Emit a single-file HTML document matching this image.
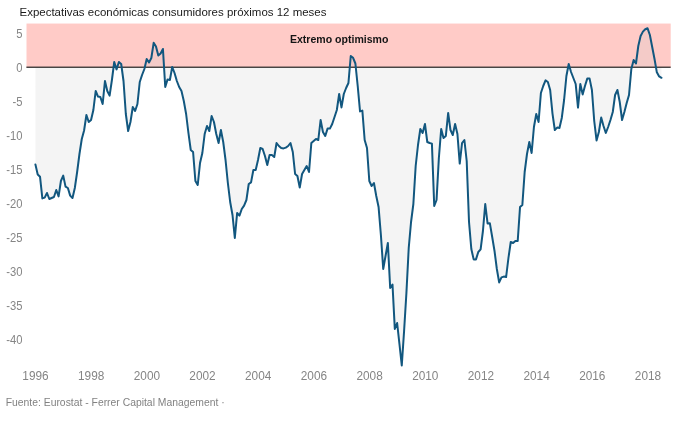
<!DOCTYPE html>
<html><head><meta charset="utf-8"><title>Expectativas económicas consumidores</title>
<style>
html,body{margin:0;padding:0;background:#fff;}
body{width:680px;height:421px;overflow:hidden;font-family:"Liberation Sans",sans-serif;}
svg{display:block;will-change:transform;}
text{font-family:"Liberation Sans",sans-serif;}
.tk{font-size:12.2px;fill:#858585;}
.ttl{font-size:11.5px;fill:#1a1a1a;}
.ann{font-size:11.4px;font-weight:bold;fill:#151515;}
.ft{font-size:11px;fill:#828282;}
</style></head><body>
<svg width="680" height="421" viewBox="0 0 680 421">
<rect x="0" y="0" width="680" height="421" fill="#ffffff"/>
<text x="19.5" y="16" class="ttl" textLength="307" lengthAdjust="spacingAndGlyphs">Expectativas económicas consumidores próximos 12 meses</text>
<rect x="26.5" y="23.55" width="644.2" height="43.85" fill="#ffcbc7"/>
<path d="M35.40,67.4 L35.40,164.40 L37.72,174.50 L40.04,176.80 L42.36,198.40 L44.68,197.60 L46.99,193.00 L49.31,199.00 L51.63,198.00 L53.95,197.00 L56.27,190.00 L58.59,196.40 L60.91,181.00 L63.23,175.60 L65.54,186.60 L67.86,188.00 L70.18,195.60 L72.50,198.00 L74.82,188.00 L77.14,172.00 L79.46,154.00 L81.78,139.00 L84.09,130.50 L86.41,115.00 L88.73,122.00 L91.05,120.00 L93.37,110.00 L95.69,91.00 L98.01,96.60 L100.33,97.00 L102.65,104.00 L104.96,81.00 L107.28,91.00 L109.60,95.60 L111.92,80.00 L114.24,62.00 L116.56,69.40 L118.88,62.00 L121.20,64.00 L123.51,81.00 L125.83,114.00 L128.15,131.00 L130.47,122.00 L132.79,107.00 L135.11,111.00 L137.43,104.00 L139.75,82.00 L142.06,75.00 L144.38,69.00 L146.70,59.00 L149.02,62.50 L151.34,58.00 L153.66,42.80 L155.98,46.50 L158.30,55.50 L160.62,53.50 L162.93,49.00 L165.25,87.00 L167.57,79.40 L169.89,80.00 L172.21,67.00 L174.53,73.00 L176.85,81.00 L179.17,87.00 L181.48,91.00 L183.80,101.00 L186.12,114.00 L188.44,133.00 L190.76,150.00 L193.08,152.00 L195.40,181.00 L197.72,185.00 L200.03,163.00 L202.35,153.00 L204.67,134.00 L206.99,126.00 L209.31,131.00 L211.63,116.00 L213.95,122.00 L216.27,134.00 L218.59,143.00 L220.90,130.00 L223.22,142.00 L225.54,160.00 L227.86,183.00 L230.18,202.00 L232.50,215.00 L234.82,238.00 L237.14,213.00 L239.45,215.60 L241.77,209.00 L244.09,205.60 L246.41,200.00 L248.73,184.00 L251.05,182.40 L253.37,170.00 L255.69,170.00 L258.00,160.00 L260.32,148.00 L262.64,149.00 L264.96,156.00 L267.28,165.00 L269.60,155.00 L271.92,155.00 L274.24,157.00 L276.56,143.00 L278.87,146.00 L281.19,148.00 L283.51,148.40 L285.83,147.60 L288.15,146.00 L290.47,143.00 L292.79,152.00 L295.11,174.00 L297.42,176.00 L299.74,187.60 L302.06,174.00 L304.38,170.00 L306.70,166.00 L309.02,172.00 L311.34,143.00 L313.66,141.00 L315.97,139.00 L318.29,140.00 L320.61,120.00 L322.93,132.00 L325.25,136.00 L327.57,128.60 L329.89,128.60 L332.21,124.00 L334.53,117.00 L336.84,110.00 L339.16,94.00 L341.48,107.40 L343.80,94.00 L346.12,88.00 L348.44,83.00 L350.76,56.00 L353.08,57.80 L355.39,63.50 L357.71,86.00 L360.03,111.40 L362.35,110.60 L364.67,140.00 L366.99,148.00 L369.31,181.00 L371.63,186.00 L373.94,183.00 L376.26,196.00 L378.58,207.00 L380.90,235.00 L383.22,269.00 L385.54,256.00 L387.86,243.00 L390.18,288.00 L392.50,284.50 L394.81,329.00 L397.13,323.00 L399.45,344.00 L401.77,365.50 L404.09,331.00 L406.41,293.00 L408.73,248.00 L411.05,222.00 L413.36,204.00 L415.68,166.00 L418.00,145.00 L420.32,129.00 L422.64,133.00 L424.96,124.00 L427.28,142.00 L429.60,143.00 L431.91,143.60 L434.23,206.00 L436.55,200.00 L438.87,158.00 L441.19,129.00 L443.51,138.00 L445.83,136.00 L448.15,113.00 L450.47,130.00 L452.78,135.00 L455.10,124.00 L457.42,134.00 L459.74,163.60 L462.06,143.00 L464.38,140.00 L466.70,161.00 L469.02,222.00 L471.33,249.00 L473.65,259.40 L475.97,259.40 L478.29,252.00 L480.61,249.40 L482.93,231.00 L485.25,204.00 L487.57,223.50 L489.88,223.30 L492.20,237.00 L494.52,251.00 L496.84,269.00 L499.16,282.40 L501.48,277.40 L503.80,276.60 L506.12,277.00 L508.44,258.00 L510.75,242.00 L513.07,243.00 L515.39,241.00 L517.71,241.00 L520.03,207.00 L522.35,205.00 L524.67,172.00 L526.99,154.00 L529.30,142.00 L531.62,153.00 L533.94,127.00 L536.26,114.00 L538.58,122.00 L540.90,93.00 L543.22,86.00 L545.54,80.40 L547.85,82.00 L550.17,90.00 L552.49,113.60 L554.81,130.00 L557.13,127.60 L559.45,128.00 L561.77,118.00 L564.09,100.00 L566.41,76.00 L568.72,64.00 L571.04,72.00 L573.36,78.00 L575.68,84.00 L578.00,107.60 L580.32,84.00 L582.64,94.40 L584.96,86.00 L587.27,78.60 L589.59,78.60 L591.91,90.00 L594.23,121.00 L596.55,140.40 L598.87,132.00 L601.19,117.60 L603.51,126.00 L605.82,133.00 L608.14,127.00 L610.46,120.00 L612.78,112.00 L615.10,95.00 L617.42,90.00 L619.74,102.00 L622.06,120.00 L624.38,112.00 L626.69,103.00 L629.01,95.00 L631.33,69.00 L633.65,60.00 L635.97,63.50 L638.29,46.00 L640.61,36.00 L642.93,31.60 L645.24,29.20 L647.56,28.30 L649.88,35.00 L652.20,47.00 L654.52,59.00 L656.84,72.30 L659.16,76.40 L661.48,77.80 L661.48,67.4 Z" fill="#cccccc" fill-opacity="0.22" stroke="none"/>
<rect x="26.4" y="66.6" width="644.3" height="1.25" fill="#2a2a2a"/>
<text x="339.2" y="43" text-anchor="middle" class="ann" textLength="98.5" lengthAdjust="spacingAndGlyphs">Extremo optimismo</text>
<path d="M35.40,164.40 L37.72,174.50 L40.04,176.80 L42.36,198.40 L44.68,197.60 L46.99,193.00 L49.31,199.00 L51.63,198.00 L53.95,197.00 L56.27,190.00 L58.59,196.40 L60.91,181.00 L63.23,175.60 L65.54,186.60 L67.86,188.00 L70.18,195.60 L72.50,198.00 L74.82,188.00 L77.14,172.00 L79.46,154.00 L81.78,139.00 L84.09,130.50 L86.41,115.00 L88.73,122.00 L91.05,120.00 L93.37,110.00 L95.69,91.00 L98.01,96.60 L100.33,97.00 L102.65,104.00 L104.96,81.00 L107.28,91.00 L109.60,95.60 L111.92,80.00 L114.24,62.00 L116.56,69.40 L118.88,62.00 L121.20,64.00 L123.51,81.00 L125.83,114.00 L128.15,131.00 L130.47,122.00 L132.79,107.00 L135.11,111.00 L137.43,104.00 L139.75,82.00 L142.06,75.00 L144.38,69.00 L146.70,59.00 L149.02,62.50 L151.34,58.00 L153.66,42.80 L155.98,46.50 L158.30,55.50 L160.62,53.50 L162.93,49.00 L165.25,87.00 L167.57,79.40 L169.89,80.00 L172.21,67.00 L174.53,73.00 L176.85,81.00 L179.17,87.00 L181.48,91.00 L183.80,101.00 L186.12,114.00 L188.44,133.00 L190.76,150.00 L193.08,152.00 L195.40,181.00 L197.72,185.00 L200.03,163.00 L202.35,153.00 L204.67,134.00 L206.99,126.00 L209.31,131.00 L211.63,116.00 L213.95,122.00 L216.27,134.00 L218.59,143.00 L220.90,130.00 L223.22,142.00 L225.54,160.00 L227.86,183.00 L230.18,202.00 L232.50,215.00 L234.82,238.00 L237.14,213.00 L239.45,215.60 L241.77,209.00 L244.09,205.60 L246.41,200.00 L248.73,184.00 L251.05,182.40 L253.37,170.00 L255.69,170.00 L258.00,160.00 L260.32,148.00 L262.64,149.00 L264.96,156.00 L267.28,165.00 L269.60,155.00 L271.92,155.00 L274.24,157.00 L276.56,143.00 L278.87,146.00 L281.19,148.00 L283.51,148.40 L285.83,147.60 L288.15,146.00 L290.47,143.00 L292.79,152.00 L295.11,174.00 L297.42,176.00 L299.74,187.60 L302.06,174.00 L304.38,170.00 L306.70,166.00 L309.02,172.00 L311.34,143.00 L313.66,141.00 L315.97,139.00 L318.29,140.00 L320.61,120.00 L322.93,132.00 L325.25,136.00 L327.57,128.60 L329.89,128.60 L332.21,124.00 L334.53,117.00 L336.84,110.00 L339.16,94.00 L341.48,107.40 L343.80,94.00 L346.12,88.00 L348.44,83.00 L350.76,56.00 L353.08,57.80 L355.39,63.50 L357.71,86.00 L360.03,111.40 L362.35,110.60 L364.67,140.00 L366.99,148.00 L369.31,181.00 L371.63,186.00 L373.94,183.00 L376.26,196.00 L378.58,207.00 L380.90,235.00 L383.22,269.00 L385.54,256.00 L387.86,243.00 L390.18,288.00 L392.50,284.50 L394.81,329.00 L397.13,323.00 L399.45,344.00 L401.77,365.50 L404.09,331.00 L406.41,293.00 L408.73,248.00 L411.05,222.00 L413.36,204.00 L415.68,166.00 L418.00,145.00 L420.32,129.00 L422.64,133.00 L424.96,124.00 L427.28,142.00 L429.60,143.00 L431.91,143.60 L434.23,206.00 L436.55,200.00 L438.87,158.00 L441.19,129.00 L443.51,138.00 L445.83,136.00 L448.15,113.00 L450.47,130.00 L452.78,135.00 L455.10,124.00 L457.42,134.00 L459.74,163.60 L462.06,143.00 L464.38,140.00 L466.70,161.00 L469.02,222.00 L471.33,249.00 L473.65,259.40 L475.97,259.40 L478.29,252.00 L480.61,249.40 L482.93,231.00 L485.25,204.00 L487.57,223.50 L489.88,223.30 L492.20,237.00 L494.52,251.00 L496.84,269.00 L499.16,282.40 L501.48,277.40 L503.80,276.60 L506.12,277.00 L508.44,258.00 L510.75,242.00 L513.07,243.00 L515.39,241.00 L517.71,241.00 L520.03,207.00 L522.35,205.00 L524.67,172.00 L526.99,154.00 L529.30,142.00 L531.62,153.00 L533.94,127.00 L536.26,114.00 L538.58,122.00 L540.90,93.00 L543.22,86.00 L545.54,80.40 L547.85,82.00 L550.17,90.00 L552.49,113.60 L554.81,130.00 L557.13,127.60 L559.45,128.00 L561.77,118.00 L564.09,100.00 L566.41,76.00 L568.72,64.00 L571.04,72.00 L573.36,78.00 L575.68,84.00 L578.00,107.60 L580.32,84.00 L582.64,94.40 L584.96,86.00 L587.27,78.60 L589.59,78.60 L591.91,90.00 L594.23,121.00 L596.55,140.40 L598.87,132.00 L601.19,117.60 L603.51,126.00 L605.82,133.00 L608.14,127.00 L610.46,120.00 L612.78,112.00 L615.10,95.00 L617.42,90.00 L619.74,102.00 L622.06,120.00 L624.38,112.00 L626.69,103.00 L629.01,95.00 L631.33,69.00 L633.65,60.00 L635.97,63.50 L638.29,46.00 L640.61,36.00 L642.93,31.60 L645.24,29.20 L647.56,28.30 L649.88,35.00 L652.20,47.00 L654.52,59.00 L656.84,72.30 L659.16,76.40 L661.48,77.80" fill="none" stroke="#12577f" stroke-width="2" stroke-linejoin="round" stroke-linecap="round"/>
<text transform="translate(22.4,37.8) scale(0.92,1)" x="0" y="0" text-anchor="end" class="tk">5</text>
<text transform="translate(22.4,71.8) scale(0.92,1)" x="0" y="0" text-anchor="end" class="tk">0</text>
<text transform="translate(22.4,105.8) scale(0.92,1)" x="0" y="0" text-anchor="end" class="tk">-5</text>
<text transform="translate(22.4,139.8) scale(0.92,1)" x="0" y="0" text-anchor="end" class="tk">-10</text>
<text transform="translate(22.4,173.8) scale(0.92,1)" x="0" y="0" text-anchor="end" class="tk">-15</text>
<text transform="translate(22.4,207.8) scale(0.92,1)" x="0" y="0" text-anchor="end" class="tk">-20</text>
<text transform="translate(22.4,241.8) scale(0.92,1)" x="0" y="0" text-anchor="end" class="tk">-25</text>
<text transform="translate(22.4,275.8) scale(0.92,1)" x="0" y="0" text-anchor="end" class="tk">-30</text>
<text transform="translate(22.4,309.8) scale(0.92,1)" x="0" y="0" text-anchor="end" class="tk">-35</text>
<text transform="translate(22.4,343.8) scale(0.92,1)" x="0" y="0" text-anchor="end" class="tk">-40</text>
<text x="35.5" y="379.8" text-anchor="middle" class="tk" textLength="26.3" lengthAdjust="spacingAndGlyphs">1996</text>
<text x="91.2" y="379.8" text-anchor="middle" class="tk" textLength="26.3" lengthAdjust="spacingAndGlyphs">1998</text>
<text x="146.9" y="379.8" text-anchor="middle" class="tk" textLength="26.3" lengthAdjust="spacingAndGlyphs">2000</text>
<text x="202.5" y="379.8" text-anchor="middle" class="tk" textLength="26.3" lengthAdjust="spacingAndGlyphs">2002</text>
<text x="258.2" y="379.8" text-anchor="middle" class="tk" textLength="26.3" lengthAdjust="spacingAndGlyphs">2004</text>
<text x="313.9" y="379.8" text-anchor="middle" class="tk" textLength="26.3" lengthAdjust="spacingAndGlyphs">2006</text>
<text x="369.6" y="379.8" text-anchor="middle" class="tk" textLength="26.3" lengthAdjust="spacingAndGlyphs">2008</text>
<text x="425.3" y="379.8" text-anchor="middle" class="tk" textLength="26.3" lengthAdjust="spacingAndGlyphs">2010</text>
<text x="480.9" y="379.8" text-anchor="middle" class="tk" textLength="26.3" lengthAdjust="spacingAndGlyphs">2012</text>
<text x="536.6" y="379.8" text-anchor="middle" class="tk" textLength="26.3" lengthAdjust="spacingAndGlyphs">2014</text>
<text x="592.3" y="379.8" text-anchor="middle" class="tk" textLength="26.3" lengthAdjust="spacingAndGlyphs">2016</text>
<text x="648.0" y="379.8" text-anchor="middle" class="tk" textLength="26.3" lengthAdjust="spacingAndGlyphs">2018</text>
<text x="5.7" y="406" class="ft" textLength="219" lengthAdjust="spacingAndGlyphs">Fuente: Eurostat - Ferrer Capital Management ·</text>
</svg>
</body></html>
